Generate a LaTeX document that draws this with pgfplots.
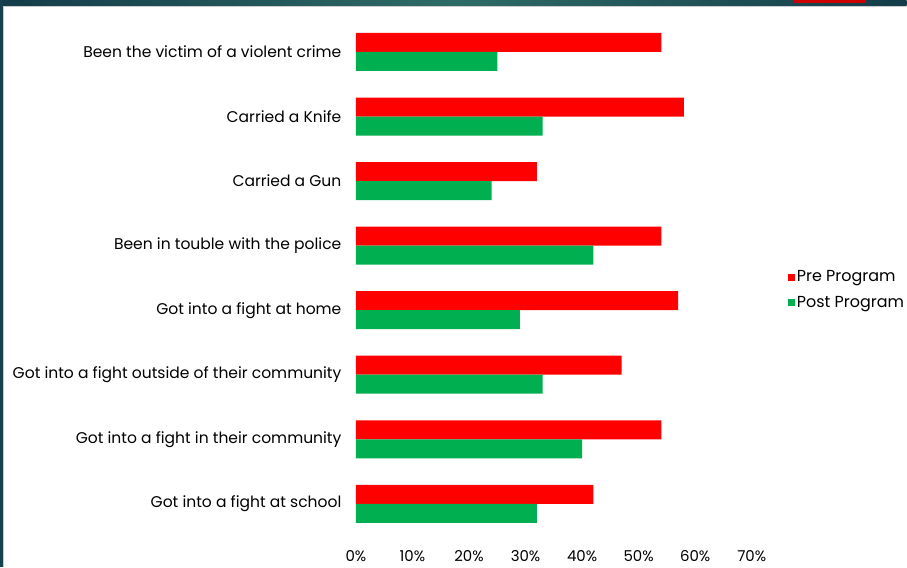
\documentclass[border=0pt]{standalone}
\usepackage{pgfplots}
\pgfplotsset{compat=1.18}
\usepackage{fontspec}
\setmainfont{Poppins}
\definecolor{prered}{HTML}{FF0000}
\definecolor{postgreen}{HTML}{00B050}
\definecolor{frameA}{HTML}{143C4A}
\definecolor{frameB}{HTML}{2E6B66}
\begin{document}
\begin{tikzpicture}[x=1bp,y=1bp]
\fill[white] (0,0) rectangle (907,567);
\shade[left color=frameA, right color=frameA, middle color=frameB] (0,561) rectangle (907,567);
\fill[frameA!90!frameB] (0,0) rectangle (3,567);
\draw[gray!40, line width=0.6bp] (3.5,0) -- (3.5,560.5) -- (907,560.5);
\fill[red!80!black] (794,564) rectangle (866,567);
\begin{axis}[
  at={(356bp,30.7bp)}, anchor=south west,
  scale only axis, width=396bp, height=516.6bp,
  xbar, bar width=19bp,
  xmin=0, xmax=70, ymin=-0.5, ymax=7.5,
  axis line style={draw=none},
  major tick length=0pt,
  xtick={0,10,...,70},
  xticklabel={\pgfmathprintnumber{\tick}\%},
  xticklabel style={font=\fontsize{15}{17}\selectfont, yshift=-11bp},
  ytick={0,...,7},
  yticklabels={Got into a fight at school, Got into a fight in their community, Got into a fight outside of their community, Got into a fight at home, Been in touble with the police, Carried a Gun, Carried a Knife, Been the victim of a violent crime},
  yticklabel style={font=\fontsize{15.6}{17}\selectfont, xshift=-11bp},
  /pgf/number format/assume math mode=true,
  legend style={at={(1,0.5)}, anchor=west, xshift=36bp, yshift=-12bp, draw=none, fill=none, font=\fontsize{16}{18}\selectfont, row sep=9bp, inner sep=0pt},
  legend cell align=left,
  legend image code/.code={\fill[#1] (0bp,-3.5bp) rectangle (7bp,3.5bp);},
]
\addplot[fill=prered, draw=none, bar shift=9.5bp] coordinates {(42,0) (54,1) (47,2) (57,3) (54,4) (32,5) (58,6) (54,7)};
\addplot[fill=postgreen, draw=none, bar shift=-9.5bp] coordinates {(32,0) (40,1) (33,2) (29,3) (42,4) (24,5) (33,6) (25,7)};
\legend{Pre Program, Post Program}
\end{axis}
\end{tikzpicture}
\end{document}
